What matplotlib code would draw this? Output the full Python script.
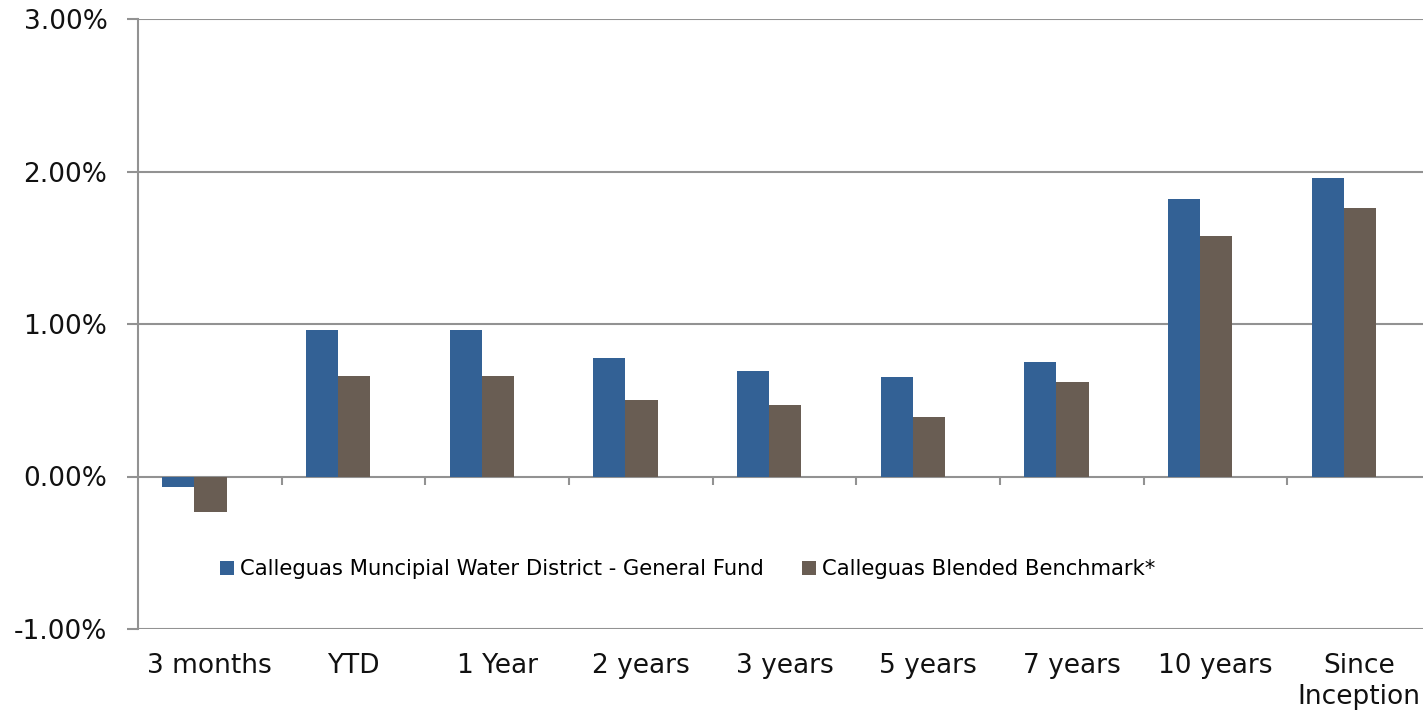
import numpy as np
import matplotlib.pyplot as plt

# data (percent)
categories = ['3 months', 'YTD', '1 Year', '2 years', '3 years',
              '5 years', '7 years', '10 years', 'Since\nInception']
fund = [-0.07, 0.96, 0.96, 0.78, 0.69, 0.65, 0.75, 1.82, 1.96]
benchmark = [-0.23, 0.66, 0.66, 0.50, 0.47, 0.39, 0.62, 1.58, 1.76]
fund_label = 'Calleguas Muncipial Water District - General Fund'
bench_label = 'Calleguas Blended Benchmark*'
y_ticks = [-1, 0, 1, 2, 3]

BLUE = '#336195'
BROWN = '#695d53'
GRID = '#929292'

plt.rcParams['font.family'] = ['DejaVu Sans']

fig = plt.figure(figsize=(14.23, 7.13), dpi=100)
W, H = 1423, 713
left, right, top, bottom = 138, 1431, 19, 629
ax = fig.add_axes([left / W, 1 - bottom / H, (right - left) / W, (bottom - top) / H])

x = np.arange(len(categories))
w = 0.224
shift = -0.107  # bar pairs sit a little left of the category centre
ax.bar(x + shift - w / 2, fund, w, color=BLUE, label=fund_label, zorder=3)
ax.bar(x + shift + w / 2, benchmark, w, color=BROWN, label=bench_label, zorder=3)

ax.set_xlim(-0.5, len(categories) - 0.5)
ax.set_ylim(y_ticks[0], y_ticks[-1])
ax.set_yticks(y_ticks)
ax.set_yticklabels([f'{v:.2f}%' for v in y_ticks], fontsize=19, color='#111111')
ax.yaxis.grid(True, color=GRID, linewidth=1.5, zorder=1)
ax.tick_params(axis='y', length=8, width=1.5, color=GRID, pad=14)

ax.set_xticks(x)
ax.set_xticklabels(categories, fontsize=19, color='#111111', linespacing=1.25)
ax.tick_params(axis='x', length=0, pad=17)

# category boundary ticks hanging from the zero line
bounds = np.arange(0.5, len(categories) - 0.5, 1.0)
ax.vlines(bounds, -0.055, 0, color=GRID, linewidth=1.5, zorder=2)

for s in ['top', 'right', 'bottom']:
    ax.spines[s].set_visible(False)
ax.spines['left'].set_color(GRID)
ax.spines['left'].set_linewidth(1.5)

ax.legend(loc='center left', bbox_to_anchor=(0.0635, 0.098), ncol=2, frameon=False,
          fontsize=15.2, handlelength=0.65, handleheight=0.65, handletextpad=0.3,
          columnspacing=1.8, borderpad=0, borderaxespad=0)

fig.savefig('out.png', dpi=100)
